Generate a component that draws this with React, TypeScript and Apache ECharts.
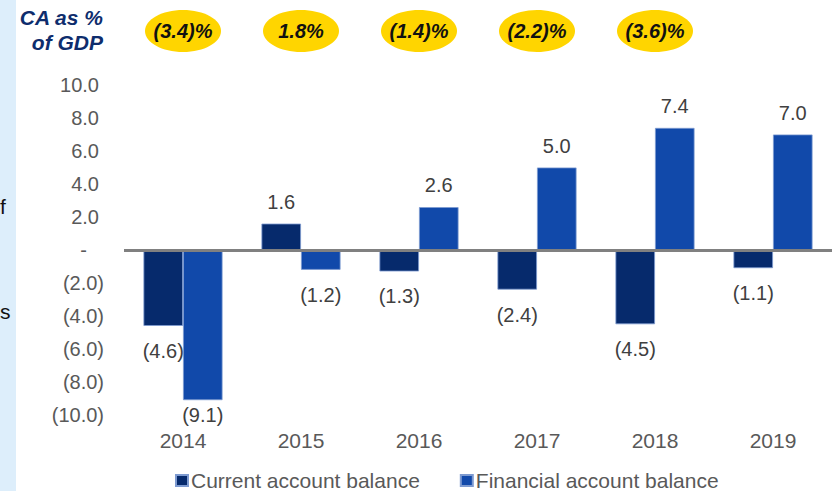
import React, { useEffect, useRef } from "react";
import * as echarts from "echarts";

const categories = ["2014", "2015", "2016", "2017", "2018", "2019"];
const currentAccount = [-4.6, 1.6, -1.3, -2.4, -4.5, -1.1];
const financialAccount = [-9.1, -1.2, 2.6, 5.0, 7.4, 7.0];
const caPctGdp = ["(3.4)%", "1.8%", "(1.4)%", "(2.2)%", "(3.6)%"];
const seriesNames = ["Current account balance", "Financial account balance"];

const FONT = "'Liberation Sans', Arial, Helvetica, sans-serif";
const CA_COLOR = "#062A6C";
const FA_COLOR = "#1149AA";

const fmt = (v: number) =>
  v < 0 ? `(${Math.abs(v).toFixed(1)})` : v === 0 ? "-" : v.toFixed(1);

const buildData = (vals: number[]) =>
  vals.map((v) => ({
    value: v,
    label: {
      position: v < 0 ? "bottom" : "top",
      distance: v < 0 ? (v < -8 ? 5 : 15) : 12,
    },
  }));

export default function App() {
  const ref = useRef<HTMLDivElement>(null);
  useEffect(() => {
    document.body.style.margin = "0";
    if (!ref.current) return;
    const chart = echarts.init(ref.current, undefined, { renderer: "svg" });
    const labelCommon = {
      show: true,
      color: "#404040",
      fontSize: 20,
      fontFamily: FONT,
      formatter: (p: any) => fmt(p.value),
    };
    chart.setOption({
      animation: false,
      backgroundColor: "#ffffff",
      grid: { left: 124, right: 0, top: 85, bottom: 76 },
      legend: {
        left: 170,
        top: 465,
        icon: "rect",
        itemWidth: 12,
        itemHeight: 11,
        itemGap: 40,
        data: seriesNames,
        textStyle: { fontSize: 21, color: "#595959", fontFamily: FONT, padding: [0, 0, 0, -2] },
      },
      xAxis: {
        type: "category",
        data: categories,
        position: "bottom",
        axisLine: { show: false, onZero: false },
        axisTick: { show: false },
        axisLabel: { fontSize: 21, color: "#595959", fontFamily: FONT, margin: 15 },
      },
      yAxis: {
        type: "value",
        min: -10,
        max: 10,
        interval: 2,
        splitLine: { show: false },
        axisLine: { show: false },
        axisTick: { show: false },
        axisLabel: {
          margin: 20,
          fontSize: 20,
          color: "#595959",
          fontFamily: FONT,
          formatter: (v: number) =>
            v < 0 ? `{n|${fmt(v)}}` : v === 0 ? `{z|-}` : `{p|${fmt(v)}}`,
          rich: {
            n: { fontSize: 20, color: "#595959", fontFamily: FONT },
            p: { fontSize: 20, color: "#595959", fontFamily: FONT, padding: [0, 5, 0, 0] },
            z: { fontSize: 20, color: "#595959", fontFamily: FONT, padding: [0, 17, 0, 0] },
          },
        },
      },
      series: [
        {
          name: seriesNames[0],
          type: "bar",
          data: buildData(currentAccount),
          barGap: "0%",
          barCategoryGap: "33%",
          itemStyle: { color: CA_COLOR, borderColor: "#7d9ad0", borderWidth: 0.8 },
          label: labelCommon,
        },
        {
          name: seriesNames[1],
          type: "bar",
          data: buildData(financialAccount),
          barGap: "0%",
          barCategoryGap: "33%",
          itemStyle: { color: FA_COLOR, borderColor: "#7d9ad0", borderWidth: 0.8 },
          label: labelCommon,
          markLine: {
            silent: true,
            symbol: ["none", "none"],
            label: { show: false },
            lineStyle: { color: "#808080", width: 3, type: "solid" },
            data: [{ yAxis: 0 }],
            z: 10,
          },
        },
      ],
    });

    const h = 491;
    const graphics: any[] = [
      { type: "rect", z: -10, shape: { x: 0, y: 0, width: 16, height: h }, style: { fill: "#DDEEFB" } },
      { type: "text", x: 0, y: 206, style: { text: "f", fill: "#111", fontSize: 21, fontFamily: FONT, align: "left", verticalAlign: "middle" } },
      { type: "text", x: 0, y: 311, style: { text: "s", fill: "#111", fontSize: 21, fontFamily: FONT, align: "left", verticalAlign: "middle" } },
      { type: "text", x: 103, y: 17, style: { text: "CA as %", fill: "#0E2D6D", fontSize: 21, fontWeight: "bold", fontStyle: "italic", fontFamily: FONT, align: "right", verticalAlign: "middle" } },
      { type: "text", x: 103, y: 42, style: { text: "of GDP", fill: "#0E2D6D", fontSize: 21, fontWeight: "bold", fontStyle: "italic", fontFamily: FONT, align: "right", verticalAlign: "middle" } },
    ];
    caPctGdp.forEach((t, i) => {
      const cx = chart.convertToPixel({ xAxisIndex: 0 }, categories[i]) as number;
      graphics.push({ type: "ellipse", shape: { cx, cy: 31, rx: 38, ry: 21 }, style: { fill: "#FFD500" } });
      graphics.push({
        type: "text",
        x: cx,
        y: 31,
        style: { text: t, fill: "#111", fontSize: 20, fontWeight: "bold", fontStyle: "italic", fontFamily: FONT, align: "center", verticalAlign: "middle" },
      });
    });
    chart.setOption({ graphic: graphics });

    return () => chart.dispose();
  }, []);
  return <div ref={ref} style={{ width: 832, height: 491 }} />;
}
